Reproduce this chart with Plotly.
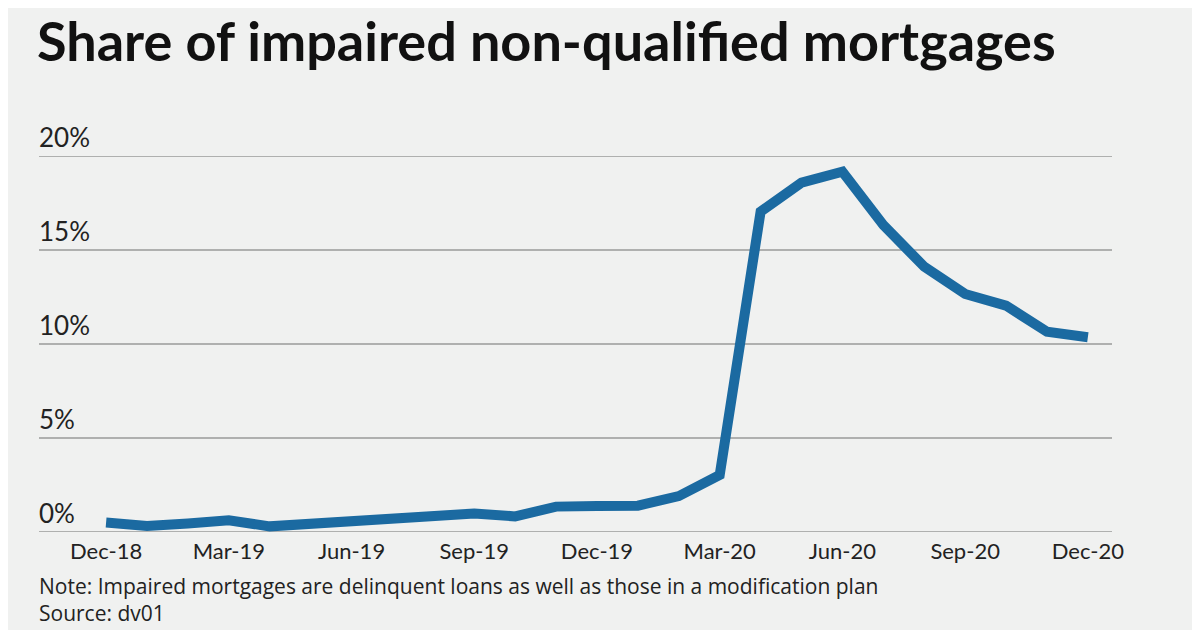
import plotly.graph_objects as go

months = ["Dec-18","Jan-19","Feb-19","Mar-19","Apr-19","May-19","Jun-19","Jul-19","Aug-19","Sep-19","Oct-19","Nov-19",
          "Dec-19","Jan-20","Feb-20","Mar-20","Apr-20","May-20","Jun-20","Jul-20","Aug-20","Sep-20","Oct-20","Nov-20","Dec-20"]
share = [0.5, 0.32, 0.45, 0.62, 0.3, 0.42, 0.55, 0.73, 0.76, 0.99, 0.83, 1.35,
         1.38, 1.4, 1.91, 3.03, 17.04, 18.58, 19.16, 16.33, 14.11, 12.66, 12.04, 10.65, 10.36]
tick_months = ["Dec-18","Mar-19","Jun-19","Sep-19","Dec-19","Mar-20","Jun-20","Sep-20","Dec-20"]
y_ticks = [0, 5, 10, 15, 20]
y_labels = ["0%", "5%", "10%", "15%", "20%"]

idx = list(range(len(months)))
tick_idx = [months.index(m) for m in tick_months]

fig = go.Figure()
fig.add_trace(go.Scatter(x=idx, y=share, mode="lines",
                         line=dict(color="#1b6aa1", width=10), hoverinfo="skip", cliponaxis=False))

ann = []
shapes = []
for v, t in zip(y_ticks, y_labels):
    ann.append(dict(x=0, xref="paper", y=v, yref="y", text=t, showarrow=False,
                    xanchor="left", yanchor="bottom", yshift=1, xshift=-2,
                    font=dict(size=26, color="#222", family="Lato")))
    shapes.append(dict(type="line", xref="paper", x0=0, x1=1, yref="y", y0=v, y1=v,
                       line=dict(color="#9a9a9a", width=1.5), layer="below"))

fig.update_layout(
    width=1200, height=630,
    paper_bgcolor="#f0f1f0", plot_bgcolor="#f0f1f0",
    margin=dict(l=31, r=96, t=148, b=106),
    showlegend=False,
    title=dict(text="<b>Share of impaired non-qualified mortgages</b>", x=29/1200, xanchor="left",
               y=1-34/630, yanchor="middle", font=dict(size=54, color="#111", family="Lato")),
    xaxis=dict(range=[-1.64, 24.59], tickvals=tick_idx, ticktext=tick_months, showgrid=False,
               zeroline=False, showline=False, ticks="", ticklabelstandoff=4,
               tickfont=dict(size=22, color="#222", family="Lato")),
    yaxis=dict(range=[0, 20], showticklabels=False, showgrid=False, zeroline=False, fixedrange=True),
    shapes=shapes,
    annotations=ann + [
        dict(x=0, xref="paper", y=-0.1, yref="paper", xanchor="left", yanchor="top", showarrow=False,
             align="left", xshift=-2,
             text="Note: Impaired mortgages are delinquent loans as well as those in a modification plan<br>Source: dv01",
             font=dict(size=21, color="#222", family="Open Sans")),
    ],
)
fig.write_html("out.html")
